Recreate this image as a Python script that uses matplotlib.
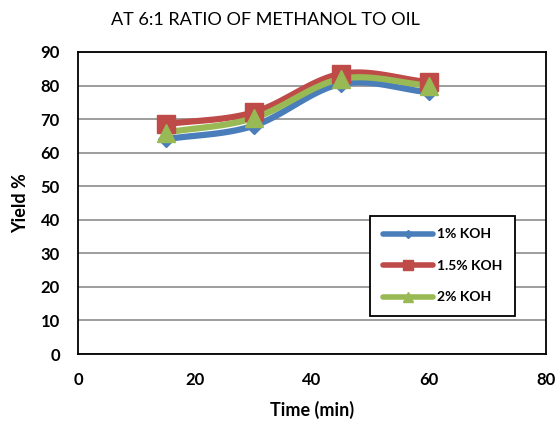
import numpy as np
import matplotlib
matplotlib.use("Agg")
import matplotlib.pyplot as plt
from matplotlib.lines import Line2D

plt.rcParams['font.family'] = ['Lato', 'DejaVu Sans']

time_min = [15, 30, 45, 60]
koh_1 = [64, 68, 80.5, 78]
koh_15 = [68.5, 72, 83.5, 81]
koh_2 = [66, 70.3, 82, 80]
series_names = ["1% KOH", "1.5% KOH", "2% KOH"]
colors = ["#4a7ebb", "#be4b48", "#98b954"]
markers = ["D", "s", "^"]
marker_sizes = [8, 13, 13]


def smooth_curve(x, y, steps=30):
    # Catmull-Rom style smoothing of the line through the data points
    x = np.asarray(x, float)
    y = np.asarray(y, float)
    px = np.concatenate([[2 * x[0] - x[1]], x, [2 * x[-1] - x[-2]]])
    py = np.concatenate([[2 * y[0] - y[1]], y, [2 * y[-1] - y[-2]]])
    xs, ys = [], []
    t = np.linspace(0, 1, steps)
    for i in range(1, len(px) - 2):
        p0, p1, p2, p3 = [np.array([px[j], py[j]]) for j in range(i - 1, i + 3)]
        c1 = p1 + (p2 - p0) / 6
        c2 = p2 - (p3 - p1) / 6
        pts = ((1 - t) ** 3)[:, None] * p1 + (3 * (1 - t) ** 2 * t)[:, None] * c1 \
            + (3 * (1 - t) * t ** 2)[:, None] * c2 + (t ** 3)[:, None] * p2
        xs.extend(pts[:, 0])
        ys.extend(pts[:, 1])
    return np.array(xs), np.array(ys)


fig = plt.figure(figsize=(5.6, 4.23), dpi=100)
ax = fig.add_axes([78 / 560, 1 - 354 / 423, 468 / 560, 302 / 423])

handles = []
for vals, name, c, m, ms in zip([koh_1, koh_15, koh_2], series_names, colors, markers, marker_sizes):
    sx, sy = smooth_curve(time_min, vals)
    ax.plot(sx, sy, color=c, lw=4.5, solid_capstyle='round', zorder=3)
    ax.plot(time_min, vals, linestyle='none', marker=m, color=c, markersize=ms, zorder=4)
    handles.append(Line2D([0], [0], color=c, lw=4, marker=m, markersize=ms * 0.55,
                          solid_capstyle='round'))

ax.set_xlim(0, 80)
ax.set_ylim(0, 90)
ax.set_xticks(np.arange(0, 81, 20))
ax.set_yticks(np.arange(0, 91, 10))
ax.yaxis.grid(True, color="#8c8c8c", lw=1.2)
ax.set_axisbelow(True)
for s in ax.spines.values():
    s.set_color("black")
    s.set_linewidth(1.3)
ax.tick_params(axis='x', length=0, labelsize=12, pad=13)
ax.tick_params(axis='y', length=0, labelsize=12, pad=13)
for lab in ax.get_xticklabels() + ax.get_yticklabels():
    lab.set_fontweight('bold')

ax.set_xlabel("Time (min)", fontsize=13, fontweight='bold')
ax.set_ylabel("Yield %", fontsize=13, fontweight='bold')
ax.xaxis.set_label_coords(0.5, (354 - 401) / 302)
ax.yaxis.set_label_coords((29 - 78) / 468, 0.5)
fig.text(265 / 560, 1 - 20 / 423, "AT 6:1 RATIO OF METHANOL TO OIL", ha='center', va='center', fontsize=13)

leg = ax.legend(handles, series_names, loc='upper left',
                bbox_to_anchor=((370 - 78) / 468, (354 - 216) / 302),
                borderaxespad=0,
                frameon=True, fancybox=False, edgecolor='black', framealpha=1,
                prop={'weight': 'bold', 'size': 10}, handlelength=3.6,
                borderpad=0.9, labelspacing=1.4, handletextpad=0.3)
leg.get_frame().set_linewidth(1.3)

fig.savefig("out.png", dpi=100)
